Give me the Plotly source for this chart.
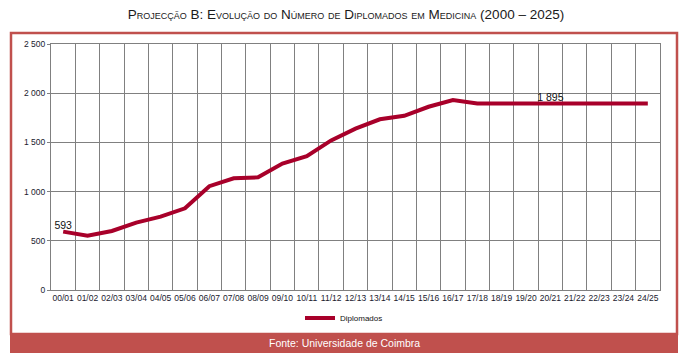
import plotly.graph_objects as go

# ---- data ----
categories = ["00/01", "01/02", "02/03", "03/04", "04/05", "05/06", "06/07", "07/08",
              "08/09", "09/10", "10/11", "11/12", "12/13", "13/14", "14/15", "15/16",
              "16/17", "17/18", "18/19", "19/20", "20/21", "21/22", "22/23", "23/24", "24/25"]
diplomados = [593, 552, 600, 685, 745, 830, 1055, 1135, 1145, 1285, 1360, 1520, 1640,
              1735, 1770, 1862, 1930, 1895, 1895, 1895, 1895, 1895, 1895, 1895, 1895]
labelled_idx = [0, 20]
y_ticks = [0, 500, 1000, 1500, 2000, 2500]
y_ticktext = ["0", "500", "1 000", "1 500", "2 000", "2 500"]

def fmt(v):
    return f"{v:,}".replace(",", " ")

point_labels = [fmt(v) if i in labelled_idx else "" for i, v in enumerate(diplomados)]

# ---- layout constants (pixels) ----
W, H = 693, 360
L, R, T, B = 51, 660, 44, 290
pw, ph = R - L, B - T

def px(x):
    return (x - L) / pw

def py(y):
    return (B - y) / ph

RED = "#C0504D"
LINE = "#A8002A"
GRID = "#808080"
FONT = "Liberation Sans"

fig = go.Figure()
fig.add_trace(go.Scatter(
    x=categories, y=diplomados, mode="lines+text", name="Diplomados",
    line=dict(color=LINE, width=4),
    text=point_labels, textposition="top center",
    textfont=dict(family=FONT, size=10.5, color="#111111"),
    cliponaxis=False,
))

shapes = [
    # outer frame
    dict(type="rect", xref="paper", yref="paper",
         x0=px(11), x1=px(677), y0=py(334), y1=py(33),
         line=dict(color=RED, width=2.5), fillcolor="rgba(0,0,0,0)", layer="below"),
    # footer band
    dict(type="rect", xref="paper", yref="paper",
         x0=px(10), x1=px(678), y0=py(353), y1=py(333),
         line=dict(width=0), fillcolor=RED, layer="above"),
]

fig.update_layout(
    width=W, height=H,
    margin=dict(l=L, r=W - R, t=T, b=H - B),
    paper_bgcolor="white", plot_bgcolor="white",
    title=dict(text="Projecção B: Evolução do Número de Diplomados em Medicina (2000 – 2025)",
               x=px(346), xanchor="center", xref="paper", y=1 - 14 / H, yanchor="middle",
               font=dict(family=FONT, size=13.5, color="#1a1a1a", variant="small-caps")),
    showlegend=True,
    legend=dict(x=px(344), y=py(318), xanchor="center", yanchor="middle",
                orientation="h", font=dict(family=FONT, size=8, color="#111111"),
                bgcolor="rgba(0,0,0,0)", itemwidth=30),
    shapes=shapes,
    annotations=[dict(text="Fonte: Universidade de Coimbra", xref="paper", yref="paper",
                      x=px(344), y=py(343), xanchor="center", yanchor="middle",
                      showarrow=False,
                      font=dict(family=FONT, size=10.5, color="white"))],
)

fig.update_xaxes(type="category", tickson="boundaries", showgrid=True, gridcolor=GRID,
                 gridwidth=1, showline=True, linecolor=GRID, linewidth=1, mirror=True,
                 ticks="", tickfont=dict(family=FONT, size=8.5, color="#1a1a2e"),
                 range=[-0.5, len(categories) - 0.5], tickangle=0)
fig.update_yaxes(range=[0, 2500], tickvals=y_ticks, ticktext=y_ticktext,
                 showgrid=True, gridcolor=GRID, gridwidth=1, zeroline=False,
                 showline=True, linecolor=GRID, linewidth=1, mirror=True,
                 ticks="outside", ticklen=3, tickcolor=GRID,
                 tickfont=dict(family=FONT, size=8.5, color="#1a1a2e"))

fig.write_html("out.html", config={"displayModeBar": False},
               post_script="document.body.style.margin='0';document.body.style.overflow='hidden';")
